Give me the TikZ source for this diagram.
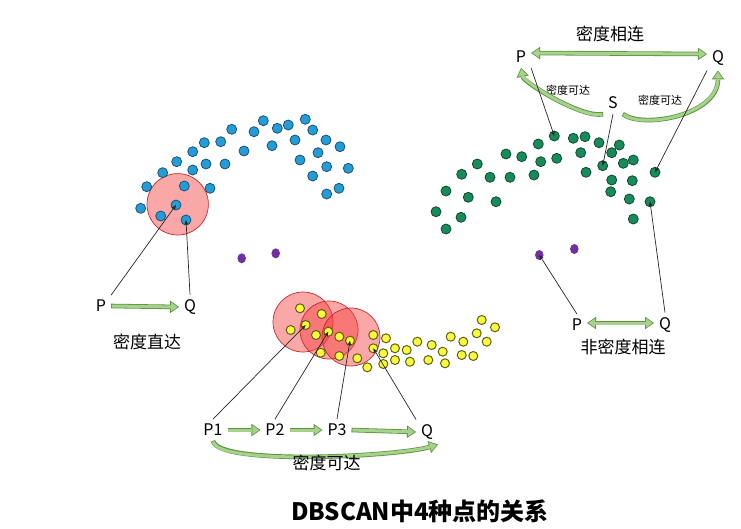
\documentclass[tikz,border=0pt]{standalone}
\usepackage{fontspec}
\setmainfont{Noto Sans CJK SC}
\usetikzlibrary{arrows.meta,shapes.geometric}
\definecolor{bluefill}{RGB}{36,157,214}
\definecolor{blueline}{RGB}{30,80,120}
\definecolor{greenfill}{RGB}{22,140,90}
\definecolor{greenline}{RGB}{20,70,50}
\definecolor{yellowfill}{RGB}{250,250,60}
\definecolor{yellowline}{RGB}{95,95,25}
\definecolor{noisefill}{RGB}{112,48,160}
\definecolor{zonefill}{RGB}{245,60,60}
\definecolor{zoneline}{RGB}{200,40,40}
\definecolor{arrowfill}{RGB}{169,209,142}
\definecolor{arrowline}{RGB}{90,150,60}
\tikzset{
  dot/.style={circle, inner sep=0pt, minimum size=10pt, line width=0.8pt},
  bdot/.style={dot, fill=bluefill, draw=blueline},
  gdot/.style={dot, fill=greenfill, draw=greenline},
  ydot/.style={dot, minimum size=9pt, line width=1pt, fill=yellowfill, draw=yellowline},
  ndot/.style={ellipse, inner sep=0pt, minimum width=8.5pt, minimum height=10pt, fill=noisefill},
  zone/.style={fill=zonefill, fill opacity=0.45, draw=zoneline, line width=0.7pt},
  lbl/.style={font=\fontsize{16}{16}\selectfont, inner sep=1pt, outer sep=4pt},
  cjk/.style={font=\fontsize{17}{17}\selectfont, inner sep=1pt},
  small/.style={font=\fontsize{11}{11}\selectfont, inner sep=1pt},
  pointer/.style={-{Stealth[length=5pt,width=4pt]}, line width=0.7pt, black!85},
  fatout/.style={line width=4.6pt, arrowline, -{Triangle[length=9pt,width=12.5pt,line width=0pt]}},
  fatin/.style={line width=3pt, arrowfill, shorten >=1.4pt, shorten <=0.8pt, -{Triangle[length=6.6pt,width=9.2pt,line width=0pt]}},
  fatoutb/.style={line width=4.6pt, arrowline, {Triangle[length=9pt,width=12.5pt,line width=0pt]}-{Triangle[length=9pt,width=12.5pt,line width=0pt]}},
  fatinb/.style={line width=3pt, arrowfill, shorten >=1.4pt, shorten <=1.4pt, {Triangle[length=6.6pt,width=9.2pt,line width=0pt]}-{Triangle[length=6.6pt,width=9.2pt,line width=0pt]}},
}
\begin{document}
\begin{tikzpicture}[x=1pt,y=-1pt]
\useasboundingbox (0,0) rectangle (741,528);

% eps neighbourhoods
\draw[zone] (177.7,204.3) circle (30.7);
\draw[zone] (303,322) circle (30);
\draw[zone] (329,330) circle (29);
\draw[zone] (351,337) circle (29);

% blue cluster
\foreach \x/\y [count=\i] in {263.3/120.7, 288.3/125, 277.3/128.3, 305.3/119.3, 312.7/130,
  254/131.7, 231.7/129.3, 220.7/141.7, 204.3/142.7, 192.7/151.7, 176.7/161.7, 162.7/172.7,
  146.7/186.7, 140.7/208.3, 244/151, 272/145.7, 295/140, 326/140, 340/146.7, 318/152.7,
  300/160, 326.7/166.7, 348.3/168.3, 312.7/176, 326.7/194, 339/188.3, 206/164, 225/164,
  192.7/170, 184.3/186, 210/188.3, 176/205, 160.7/216, 186/220}
  \node[bdot] (b\i) at (\x,\y) {};

% green cluster
\foreach \x/\y [count=\i] in {554.3/136, 573.3/138.3, 585/136.7, 599/142.7, 619.3/145,
  611.7/152.7, 538.3/144, 580.7/152.7, 556.7/158.3, 540.7/161.7, 521.7/156.7, 506/154,
  477.3/164, 461.7/174.3, 490/177.3, 510/177.3, 534/175, 586/172.3, 602.7/165.7,
  623.3/163.3, 633.3/160, 655/172.3, 611.7/180, 632.3/180.7, 610.7/191.7, 629.3/199,
  650/201.7, 633.3/219, 446/191, 468.3/197.3, 496/201.7, 436/211.7, 461/217.3, 446/229}
  \node[gdot] (g\i) at (\x,\y) {};

% yellow cluster
\foreach \x/\y [count=\i] in {300/308.3, 321.7/314, 290.7/330, 305.7/325, 328.3/331.7,
  316/335, 339.3/336.7, 350/340.7, 320.7/352.7, 339.3/356, 357.3/358.3, 373.3/335,
  386/338.3, 373.3/348.3, 383.3/353.3, 367.3/367.3, 383.3/364, 395/348.3, 395/360,
  406.7/350, 410/361.7, 417.3/341.7, 431.7/345, 428.3/360, 442.7/351.7, 445/363.3,
  450.7/336.7, 463.3/341.7, 461.7/355, 473.3/356, 476.7/333.3, 486.7/341.7, 481.7/320,
  495/327.3}
  \node[ydot] (y\i) at (\x,\y) {};

% noise points
\node[ndot] (n1) at (241.7,258.3) {};
\node[ndot] (n2) at (275.7,253.3) {};
\node[ndot] (n3) at (539.3,255) {};
\node[ndot] (n4) at (574.3,249) {};

% directly density-reachable
\node[lbl] (pa) at (101,306) {P};
\node[lbl] (qa) at (190,307) {Q};
\node[cjk] (ta) at (147,342) {密度直达};
\foreach \s in {fatout,fatin} \draw[\s] (pa.east) -- (qa.west);
\draw[pointer] (pa.north east) -- (b32.center);
\draw[pointer] (qa.north) -- (b34.center);

% density-reachable
\node[lbl] (p1) at (213,430) {P1};
\node[lbl] (p2) at (275,430) {P2};
\node[lbl] (p3) at (337,430) {P3};
\node[lbl] (qb) at (427,432) {Q};
\foreach \s in {fatout,fatin} {
  \draw[\s] (p1.east) -- (p2.west);
  \draw[\s] (p2.east) -- (p3.west);
  \draw[\s] (p3.east) -- (qb.west);
  \draw[\s] (p1.south) .. controls +(5,25) and +(-40,12) .. (qb.south east);
}
\node[cjk] (tb) at (326.7,463) {密度可达};
\draw[pointer] (p1.north) -- (y4.center);
\draw[pointer] (p2.north) -- (y5.center);
\draw[pointer] (p3.north) -- (y8.center);
\draw[pointer] (qb.north west) -- (y14.center);

% density-connected
\node[lbl] (pt) at (521,57) {P};
\node[lbl] (qt) at (718,58) {Q};
\node[lbl] (st) at (613,103) {S};
\node[cjk] (tc) at (610,34) {密度相连};
\node[small] (tl) at (568,90) {密度可达};
\node[small] (tr) at (660,100) {密度可达};
\foreach \s in {fatoutb,fatinb} \draw[\s] ([yshift=4pt]pt.east) -- ([yshift=4pt]qt.west);
\foreach \s in {fatout,fatin} {
  \draw[\s] (st.south west) .. controls +(-20,5) and +(3,15) .. (pt.south);
  \draw[\s] (st.south east) .. controls +(20,15) and +(0,45) .. (qt.south);
}
\draw[pointer] (pt.south east) -- (g1.center);
\draw[pointer] (st.south) -- (g19.center);
\draw[pointer] (qt.south west) -- (g22.center);

% not density-connected
\node[lbl] (pn) at (577,325) {P};
\node[lbl] (qn) at (665,325) {Q};
\node[cjk] (tn) at (623,347) {非密度相连};
\foreach \s in {fatoutb,fatinb} \draw[\s] ([yshift=2pt]pn.east) -- ([yshift=2pt]qn.west);
\draw[pointer] (pn.north) -- (n3.center);
\draw[pointer] (qn.north) -- (g27.center);

\node[font=\fontsize{24}{24}\selectfont\bfseries] (title) at (420,511) {DBSCAN中4种点的关系};
\end{tikzpicture}
\end{document}
